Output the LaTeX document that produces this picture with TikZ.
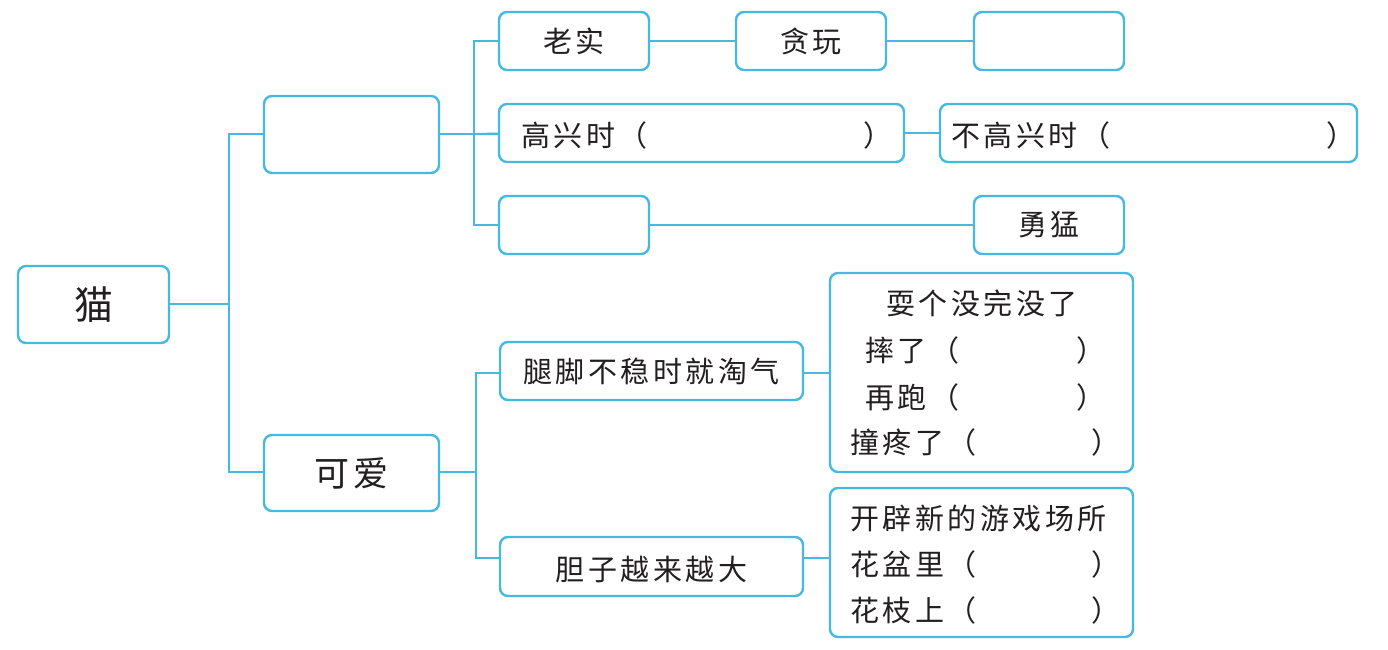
\documentclass[tikz,border=0pt]{standalone}
\usepackage{fontspec}
\newfontfamily\cjk[LetterSpace=12]{Noto Sans CJK SC}
\newfontfamily\cjkplain{Noto Sans CJK SC}
\definecolor{lc}{HTML}{46B9E1}
\definecolor{tc}{HTML}{231F20}
\begin{document}
\begin{tikzpicture}[x=1pt,y=-1pt,
  box/.style={draw=lc, line width=2.4pt, rounded corners=8pt, inner sep=0pt, fill=white,
    font=\cjk\fontsize{29}{32}\selectfont, text=tc},
  ln/.style={draw=lc, line width=2.4pt},
  txt/.style={inner sep=0pt, anchor=west, font=\cjk\fontsize{29}{32}\selectfont, text=tc},
  txtc/.style={inner sep=0pt, font=\cjk\fontsize{29}{32}\selectfont, text=tc}]
\fill[white] (0,0) rectangle (1388,649);
\useasboundingbox (0,0) rectangle (1388,649);

% coordinates of the spines
\coordinate (s1) at (229,304);
\coordinate (s2) at (474,134);
\coordinate (s3) at (476,472);

% connectors first (boxes drawn on top)
\draw[ln] (s1) -- (93.5,304);
\draw[ln] (351.5,134) -| (s1) |- (351.5,472);
\draw[ln] (351.5,134) -- (s2);
\draw[ln] (574,41) -| (s2) |- (574,225);
\draw[ln] (s2) -- (701,133);
\draw[ln] (574,41) -- (1049,41);
\draw[ln] (701,133) -- (1148,133);
\draw[ln] (574,225) -- (1049,225);
\draw[ln] (351.5,472) -- (s3);
\draw[ln] (651,373) -| (s3) |- (651,558);
\draw[ln] (651,373) -- (981,373);
\draw[ln] (651,558) -- (981,558);

% level 0 and 1
\node[box, minimum width=151pt, minimum height=77pt, font=\cjkplain\fontsize{39}{41}\selectfont] (cat) at (93.5,304.5) {猫};
\node[box, minimum width=175pt, minimum height=77pt] (b1) at (351.5,134.5) {};
\node[box, minimum width=175pt, minimum height=76pt, font=\cjk\fontsize{35}{38}\selectfont] (keai) at (351.5,473) {可爱};

% upper branch
\node[box, minimum width=150pt, minimum height=58pt] (laoshi) at (574,41) {老实};
\node[box, minimum width=150pt, minimum height=58pt] (tanwan) at (811,41) {贪玩};
\node[box, minimum width=150pt, minimum height=58pt] (blank2) at (1049,41) {};
\node[box, minimum width=405pt, minimum height=58pt] (gaoxing) at (701.5,133) {};
\node[box, minimum width=417pt, minimum height=58pt] (bugaoxing) at (1148.5,133) {};
\node[box, minimum width=150pt, minimum height=58pt] (blank3) at (574,225) {};
\node[box, minimum width=150pt, minimum height=58pt] (yongmeng) at (1049,225) {勇猛};

\node[txt] (gx1) at (521,135) {高兴时（};
\node[txt] (gx2) at (863,135) {）};
\node[txt] (bg1) at (951,135) {不高兴时（};
\node[txt] (bg2) at (1326,135) {）};

% lower branch
\node[box, minimum width=303pt, minimum height=58pt] (tuijiao) at (651.5,371) {腿脚不稳时就淘气};
\node[box, minimum width=303pt, minimum height=59pt] (danzi) at (651.5,566.5) {};
\node[txtc] (danzit) at (651.5,569) {胆子越来越大};

\node[box, minimum width=303pt, minimum height=199pt] (shua) at (981.5,372.5) {};
\node[box, minimum width=303pt, minimum height=149pt] (kaipi) at (981.5,562.5) {};

\node[txtc] (sh1) at (982,303) {耍个没完没了};
\node[txt] (sh2) at (865,350) {摔了（};
\node[txt] (sh2b) at (1076,350) {）};
\node[txt] (sh3) at (865,397) {再跑（};
\node[txt] (sh3b) at (1076,397) {）};
\node[txt] (sh4) at (850,442) {撞疼了（};
\node[txt] (sh4b) at (1091,442) {）};

\node[txt] (kp1) at (850,518) {开辟新的游戏场所};
\node[txt] (kp2) at (850,564) {花盆里（};
\node[txt] (kp2b) at (1091,564) {）};
\node[txt] (kp3) at (850,610) {花枝上（};
\node[txt] (kp3b) at (1091,610) {）};
\end{tikzpicture}
\end{document}
